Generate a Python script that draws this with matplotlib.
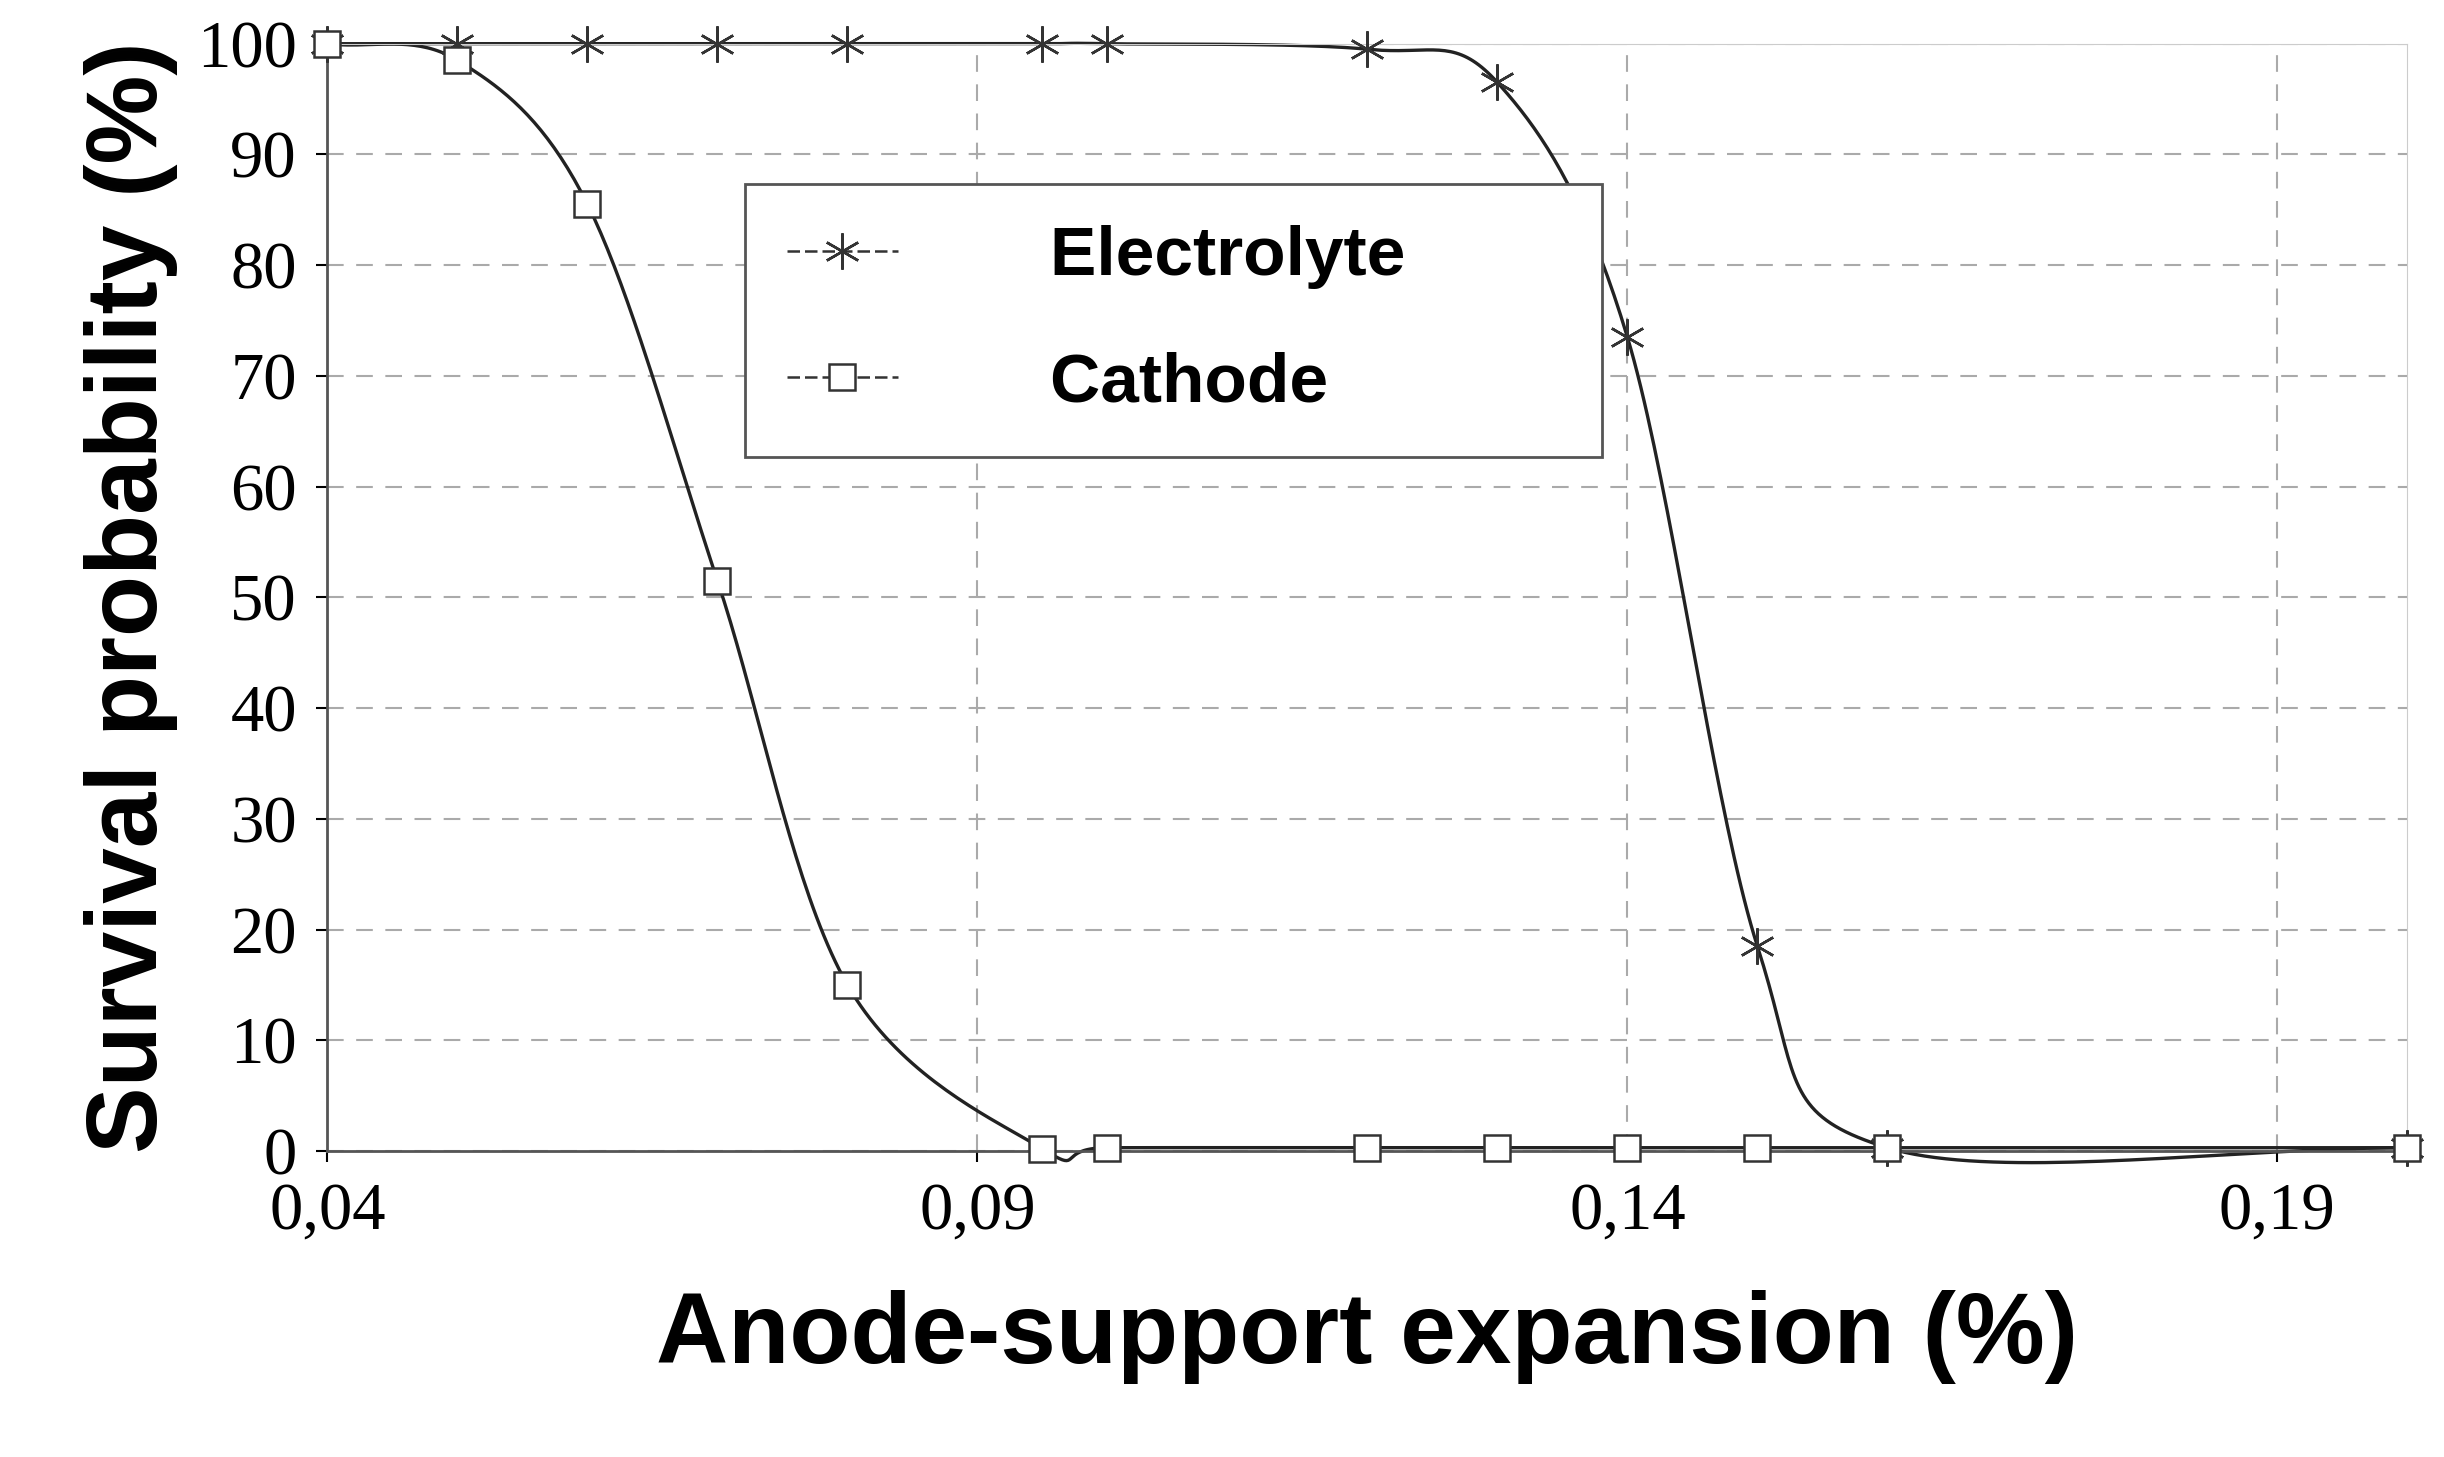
import matplotlib
matplotlib.use("Agg")
import matplotlib.pyplot as plt
import numpy as np
from matplotlib.ticker import FuncFormatter

# data
x_elec = [0.04, 0.05, 0.06, 0.07, 0.08, 0.095, 0.10, 0.12, 0.13, 0.14, 0.15, 0.16, 0.20]
y_elec = [100, 100, 100, 100, 100, 100, 100, 99.5, 96.5, 73.5, 18.5, 0.3, 0.3]
x_cath = [0.04, 0.05, 0.06, 0.07, 0.08, 0.095, 0.10, 0.12, 0.13, 0.14, 0.15, 0.16, 0.20]
y_cath = [100, 98.5, 85.5, 51.5, 15, 0.2, 0.3, 0.3, 0.3, 0.3, 0.3, 0.3, 0.3]


def smooth(x, y, n=40):
    """Catmull-Rom style smoothing, like Excel's smoothed line."""
    x = np.asarray(x, float)
    y = np.asarray(y, float)
    px = np.concatenate([[2 * x[0] - x[1]], x, [2 * x[-1] - x[-2]]])
    py = np.concatenate([[2 * y[0] - y[1]], y, [2 * y[-1] - y[-2]]])
    xs, ys = [], []
    t = np.linspace(0, 1, n)
    for i in range(1, len(px) - 2):
        p0, p1, p2, p3 = px[i - 1:i + 3]
        q0, q1, q2, q3 = py[i - 1:i + 3]
        for arr, a0, a1, a2, a3 in ((xs, p0, p1, p2, p3), (ys, q0, q1, q2, q3)):
            arr.extend(0.5 * (2 * a1 + (-a0 + a2) * t
                              + (2 * a0 - 5 * a1 + 4 * a2 - a3) * t ** 2
                              + (-a0 + 3 * a1 - 3 * a2 + a3) * t ** 3))
    return np.array(xs), np.array(ys)


fig = plt.figure(figsize=(24.44, 14.57), dpi=100)
ax = fig.add_axes([0.134, 0.21, 0.851, 0.76])

star = (6, 2, 0)
for xs, ys, mk, lab in ((x_elec, y_elec, star, "Electrolyte"),
                        (x_cath, y_cath, "s", "Cathode")):
    ms = 26 if mk == star else 19
    sx, sy = smooth(xs, ys)
    ax.plot(sx, sy, color="#222222", lw=2.4, clip_on=False)
    ax.plot(xs, ys, linestyle="none", marker=mk, markersize=ms, clip_on=False, zorder=5,
            markerfacecolor="white", markeredgecolor="#333333", markeredgewidth=1.8)
    ax.plot([], [], color="#333333", lw=1.8, ls=(0, (5, 2)), marker=mk,
            markersize=ms, markerfacecolor="white",
            markeredgecolor="#333333", markeredgewidth=1.8, label=lab)

ax.set_xlim(0.04, 0.20)
ax.set_ylim(0, 100)
ax.set_xticks([0.04, 0.09, 0.14, 0.19])
ax.set_yticks(range(0, 101, 10))
ax.xaxis.set_major_formatter(FuncFormatter(lambda v, p: f"{v:.2f}".replace(".", ",")))
ax.grid(True, color="#aaaaaa", ls=(0, (8, 6)), lw=1.5)
ax.set_axisbelow(True)
for s in ("top", "right"):
    ax.spines[s].set_color("#cccccc")
for s in ("left", "bottom"):
    ax.spines[s].set_color("#555555")
    ax.spines[s].set_linewidth(2)
ax.tick_params(labelsize=48, length=8, width=1.5, pad=14)
for t in ax.get_xticklabels() + ax.get_yticklabels():
    t.set_fontfamily("Liberation Serif")

ax.set_xlabel("Anode-support expansion (%)", fontsize=72, fontweight="bold",
              family="Liberation Sans", labelpad=34)
ax.set_ylabel("Survival probability (%)", fontsize=72, fontweight="bold",
              family="Liberation Sans", labelpad=14)

leg = ax.legend(loc="upper left", bbox_to_anchor=(0.184, 0.905), fancybox=False,
                framealpha=1, edgecolor="#555555", handlelength=1.6,
                prop={"family": "Liberation Sans", "weight": "bold", "size": 50},
                borderpad=0.6, labelspacing=0.9, handletextpad=2.2)
leg.get_frame().set_linewidth(2)
for t in leg.get_texts():
    t.set_text(t.get_text() + "        ")

fig.savefig("out.png", dpi=100)
